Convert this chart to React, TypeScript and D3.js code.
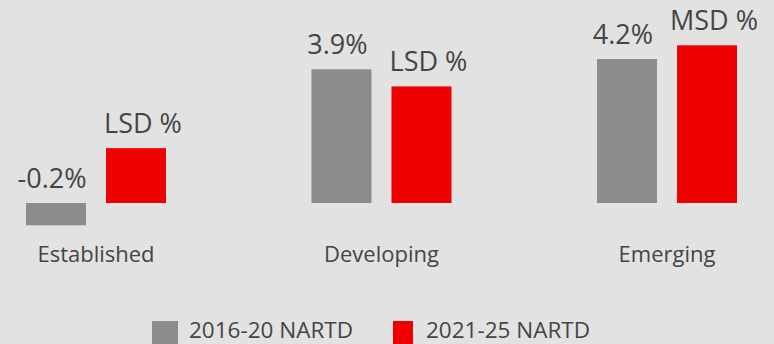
import React from "react";
import * as d3 from "d3";

const categories = ["Established", "Developing", "Emerging"];
const seriesNames = ["2016-20 NARTD", "2021-25 NARTD"];
// bar heights as drawn in the picture (% growth)
const series2016 = [-0.65, 3.9, 4.2];
const series2021 = [1.6, 3.4, 4.6];
const labels2016 = ["-0.2%", "3.9%", "4.2%"];
const labels2021 = ["LSD %", "LSD %", "MSD %"];

const W = 774;
const H = 344;
const colors = ["#8b8c8d", "#f00000"];
const textColor = "#444546";
const font = "'Open Sans', 'Noto Sans', sans-serif";

export default function App() {
  const x0 = d3.scalePoint<string>().domain(categories).range([96, 667]);
  const x1 = d3
    .scaleBand<string>()
    .domain(seriesNames)
    .range([-70, 70])
    .paddingInner(0.25)
    .paddingOuter(0);
  const y = d3.scaleLinear().domain([0, 4.2]).range([203, 59]);

  const allSeries = [series2016, series2021];
  const allLabels = [labels2016, labels2021];
  const labelDx = [-4, 7];

  const bars: React.ReactNode[] = [];
  const texts: React.ReactNode[] = [];
  categories.forEach((c, i) => {
    seriesNames.forEach((s, j) => {
      const v = allSeries[j][i];
      const bx = (x0(c) as number) + (x1(s) as number);
      const top = Math.min(y(v), y(0));
      const h = Math.abs(y(v) - y(0));
      bars.push(
        <rect key={`b${i}${j}`} x={bx} y={top} width={x1.bandwidth()} height={h} fill={colors[j]} />
      );
      const ly = Math.min(y(v), y(0)) - 15;
      texts.push(
        <text
          key={`t${i}${j}`}
          x={bx + x1.bandwidth() / 2 + labelDx[j]}
          y={ly}
          textAnchor="middle"
          fontSize={27}
          fill={textColor}
          fontFamily={font}
        >
          {allLabels[j][i]}
        </text>
      );
    });
  });

  const legendX = [152, 393];
  return (
    <svg
      width={W}
      height={H}
      style={{ position: "fixed", left: 0, top: 0, display: "block" }}
    >
      <defs>
        <radialGradient id="glow" cx="0.5" cy="0.5" r="0.5">
          <stop offset="0" stopColor="#f4f5f5" stopOpacity={1} />
          <stop offset="1" stopColor="#e1e2e1" stopOpacity={0} />
        </radialGradient>
      </defs>
      <rect width={W} height={H} fill="#e1e2e1" />
      <ellipse cx={720} cy={-40} rx={260} ry={50} fill="url(#glow)" />
      {bars}
      {texts}
      {categories.map((c) => (
        <text
          key={c}
          x={x0(c) as number}
          y={262}
          textAnchor="middle"
          fontSize={22}
          fill={textColor}
          fontFamily={font}
        >
          {c}
        </text>
      ))}
      {seriesNames.map((s, j) => (
        <g key={s} transform={`translate(${legendX[j]},0)`}>
          <rect x={0} y={321} width={j === 0 ? 26 : 20} height={24} fill={colors[j]} />
          <text
            x={j === 0 ? 37 : 33}
            y={338}
            fontSize={22.5}
            fill={textColor}
            fontFamily={font}
          >
            {s}
          </text>
        </g>
      ))}
    </svg>
  );
}
